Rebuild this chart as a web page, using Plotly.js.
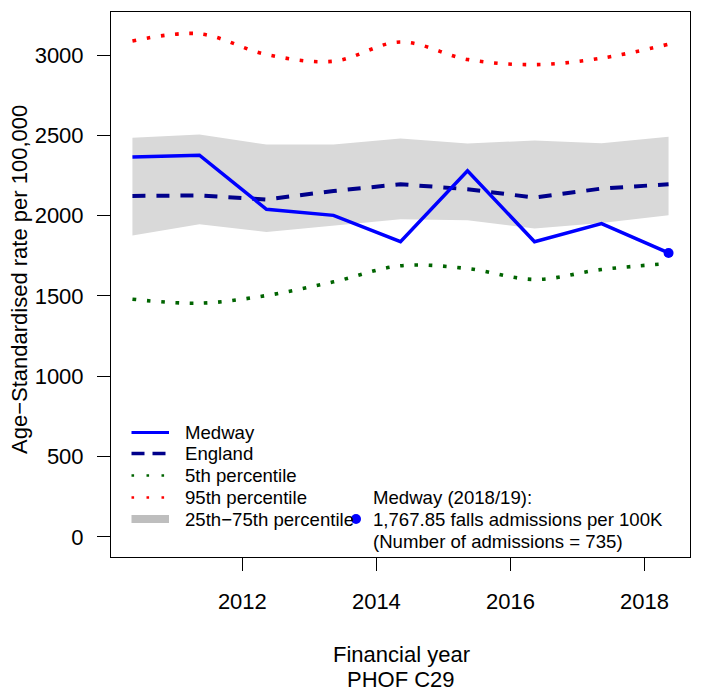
<!DOCTYPE html>
<html>
<head>
<meta charset="utf-8">
<script src="https://cdn.plot.ly/plotly-3.0.1.min.js"></script>
<style>html,body{margin:0;padding:0;background:#fff;}#chart{width:713px;height:692px;}</style>
</head>
<body>
<div id="chart"></div>
<script>
// ---- data ----
const fiscalYears = [2010, 2011, 2012, 2013, 2014, 2015, 2016, 2017, 2018];
const yearOffset = 0.36; // plotted position within each financial year
const medway = [2366, 2377, 2040, 2002, 1838, 2280, 1838, 1951, 1767.85];
const england = [2123, 2126, 2101, 2154, 2196, 2165, 2113, 2169, 2196];
const p5 = [1480, 1455, 1503, 1588, 1688, 1671, 1603, 1665, 1702];
const p95 = [3088, 3133, 3004, 2962, 3082, 2973, 2941, 2981, 3068];
const p25 = [1877, 1947, 1899, 1939, 1978, 1972, 1920, 1955, 2003];
const p75 = [2485, 2505, 2443, 2443, 2481, 2450, 2468, 2451, 2491];
const yTicks = [0, 500, 1000, 1500, 2000, 2500, 3000];
const xTicks = [2012, 2014, 2016, 2018];
const legendLabels = ["Medway", "England", "5th percentile", "95th percentile", "25th\u221275th percentile"];
const noteLines = ["Medway (2018/19):", "1,767.85 falls admissions per 100K", "(Number of admissions = 735)"];

const x = fiscalYears.map(y => y + yearOffset);
const FONT = "Liberation Sans, Arial, Helvetica, sans-serif";

// plot box in pixels
const L = 111, R = 690, T = 12, B = 557, W = 713, H = 692;
const px = v => (v - L) / (R - L);
const py = v => (B - v) / (B - T);

const DOT = "3.6px,10.7px";
const traces = [
  {x: x, y: p25, mode: "lines", line: {width: 0, color: "#D9D9D9"}, hoverinfo: "skip", showlegend: false},
  {x: x, y: p75, mode: "lines", fill: "tonexty", fillcolor: "#D9D9D9", line: {width: 0, color: "#D9D9D9"}, hoverinfo: "skip", showlegend: false},
  {x: x, y: p95, mode: "lines", line: {color: "#FF0000", width: 3.6, dash: DOT, shape: "spline"}, showlegend: false},
  {x: x, y: p5, mode: "lines", line: {color: "#006400", width: 3.6, dash: DOT, shape: "spline"}, showlegend: false},
  {x: x, y: england, mode: "lines", line: {color: "#00008B", width: 4, dash: "13px,11px"}, showlegend: false},
  {x: x, y: medway, mode: "lines", line: {color: "#0000FF", width: 3.5}, showlegend: false},
  {x: [x[x.length - 1]], y: [medway[medway.length - 1]], mode: "markers", marker: {color: "#0000FF", size: 10}, showlegend: false}
];

// manual legend (R style)
const legStyles = [
  {color: "#0000FF", width: 3, dash: "solid"},
  {color: "#00008B", width: 3.5, dash: "13px,8px"},
  {color: "#006400", width: 2.6, dash: "2.6px,12.4px"},
  {color: "#FF0000", width: 2.6, dash: "2.6px,12.4px"},
  {color: "#BEBEBE", width: 8, dash: "solid"}
];
const legY = [432.5, 453.5, 475.5, 497.5, 519];
const shapes = [];
const annotations = [];
legStyles.forEach((s, i) => {
  shapes.push({type: "line", xref: "paper", yref: "paper", x0: px(131.5), x1: px(169), y0: py(legY[i]), y1: py(legY[i]), line: s});
  annotations.push({xref: "paper", yref: "paper", x: px(183), y: py(legY[i]), xanchor: "left", yanchor: "middle", showarrow: false, text: legendLabels[i], font: {family: FONT, size: 18.6, color: "#000"}});
});
shapes.push({type: "circle", xref: "paper", yref: "paper", xsizemode: "pixel", ysizemode: "pixel", xanchor: px(356), yanchor: py(519), x0: -5, x1: 5, y0: -5, y1: 5, fillcolor: "#0000FF", line: {width: 0}});
const noteY = [497.5, 519, 541];
noteLines.forEach((t, i) => {
  annotations.push({xref: "paper", yref: "paper", x: px(371), y: py(noteY[i]), xanchor: "left", yanchor: "middle", showarrow: false, text: t, font: {family: FONT, size: 18.6, color: "#000"}});
});
// axis titles
annotations.push({xref: "paper", yref: "paper", x: (401 - L) / (R - L), y: py(654), xanchor: "center", yanchor: "middle", showarrow: false, text: "Financial year", font: {family: FONT, size: 22, color: "#000"}});
annotations.push({xref: "paper", yref: "paper", x: (401 - L) / (R - L), y: py(679), xanchor: "center", yanchor: "middle", showarrow: false, text: "PHOF C29", font: {family: FONT, size: 22, color: "#000"}});
annotations.push({xref: "paper", yref: "paper", x: px(19), y: py(280), xanchor: "center", yanchor: "middle", textangle: -90, showarrow: false, text: "Age\u2212Standardised rate per 100,000", font: {family: FONT, size: 22, color: "#000"}});

const layout = {
  width: W, height: H,
  margin: {l: L, r: W - R, t: T, b: H - B, pad: 0},
  paper_bgcolor: "#fff", plot_bgcolor: "#fff",
  font: {family: FONT, size: 22, color: "#000"},
  showlegend: false,
  xaxis: {range: [2010.04, 2018.68], tickvals: xTicks, ticktext: xTicks.map(String), ticks: "outside", ticklen: 13, tickwidth: 1, tickcolor: "#000",
    showline: true, mirror: true, linecolor: "#000", linewidth: 1, showgrid: false, zeroline: false, ticklabelstandoff: 12,
    tickfont: {family: FONT, size: 22, color: "#000"}},
  yaxis: {range: [-125.7, 3268.7], tickvals: yTicks, ticktext: yTicks.map(String), ticks: "outside", ticklen: 13, tickwidth: 1, tickcolor: "#000",
    showline: true, mirror: true, linecolor: "#000", linewidth: 1, showgrid: false, zeroline: false, ticklabelstandoff: 9,
    tickfont: {family: FONT, size: 22, color: "#000"}},
  shapes: shapes,
  annotations: annotations
};

Plotly.newPlot("chart", traces, layout, {displayModeBar: false, staticPlot: true});
</script>
</body>
</html>
